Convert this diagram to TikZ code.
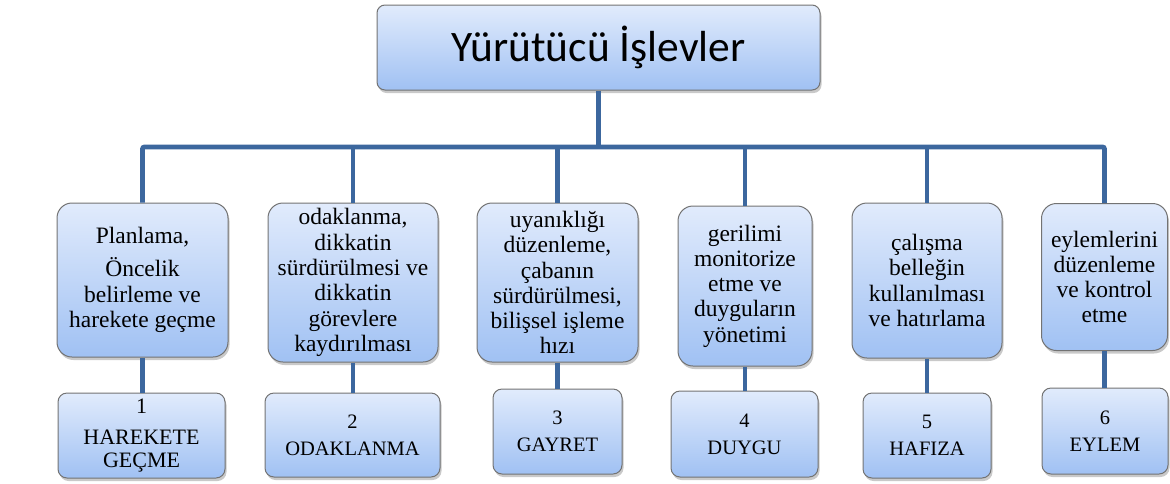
\documentclass[tikz,border=0pt]{standalone}
\usepackage{fontspec}
\setmainfont{Liberation Serif}
\newfontfamily\calib{Carlito}
\usetikzlibrary{shadows}
\definecolor{linecol}{RGB}{60,103,158}
\definecolor{boxtop}{RGB}{225,235,252}
\definecolor{boxbot}{RGB}{160,193,243}
\definecolor{boxborder}{RGB}{115,115,115}
\tikzset{
  boxbase/.style={draw=boxborder, line width=1pt, top color=boxtop, bottom color=boxbot,
    drop shadow={shadow xshift=1.5pt, shadow yshift=-3pt, opacity=0.3, fill=black!70},
    align=center, inner sep=2pt},
  topbox/.style={boxbase, rounded corners=8pt, font=\calib\fontsize{43.5}{48}\selectfont},
  midbox/.style={boxbase, rounded corners=15pt, font=\fontsize{23.5}{25.3}\selectfont},
  botbox/.style={boxbase, rounded corners=9pt, font=\fontsize{20.5}{27}\selectfont},
  conn/.style={draw=linecol, line width=4.8pt}
}
\begin{document}
\begin{tikzpicture}[x=1pt,y=-1pt]
\useasboundingbox (0,0) rectangle (1170,483);
% top
\node[topbox, minimum width=443, minimum height=85] (top) at (598.5,47.5) {Yürütücü İşlevler};
% middle row
\node[midbox, minimum width=171, minimum height=154] (m1) at (142.5,280) {Planlama,\\[8pt]Öncelik\\belirleme ve\\harekete geçme};
\node[midbox, minimum width=170, minimum height=159] (m2) at (353,282.5) {odaklanma,\\dikkatin\\sürdürülmesi ve\\dikkatin\\görevlere\\kaydırılması};
\node[midbox, minimum width=161, minimum height=159] (m3) at (557.5,282.5) {uyanıklığı\\düzenleme,\\çabanın\\sürdürülmesi,\\bilişsel işleme\\hızı};
\node[midbox, minimum width=134, minimum height=160] (m4) at (745,286) {gerilimi\\monitorize\\etme ve\\duyguların\\yönetimi};
\node[midbox, minimum width=150, minimum height=155] (m5) at (927,280.5) {çalışma\\belleğin\\kullanılması\\ve hatırlama};
\node[midbox, minimum width=126, minimum height=147] (m6) at (1104.5,277) {eylemlerini\\düzenleme\\ve kontrol\\etme};
% bottom row
\node[botbox, minimum width=167, minimum height=85, font=\fontsize{22}{22.5}\selectfont] (b1) at (141.5,435.5) {1\\[9pt]HAREKETE\\GEÇME};
\node[botbox, minimum width=175, minimum height=84] (b2) at (352.5,435) {2\\ODAKLANMA};
\node[botbox, minimum width=129, minimum height=85] (b3) at (557.5,431.5) {3\\GAYRET};
\node[botbox, minimum width=147, minimum height=86] (b4) at (744.5,434) {4\\DUYGU};
\node[botbox, minimum width=128, minimum height=85] (b5) at (927,435.5) {5\\HAFIZA};
\node[botbox, minimum width=126, minimum height=86] (b6) at (1105,431) {6\\EYLEM};
% connectors
\coordinate (bar) at (599,147);
\draw[conn] (top.south) -- (top.south |- bar);
\draw[conn, rounded corners=2pt] (m1.north) |- (bar) -| (m6.north);
\foreach \m in {m2,m3,m4,m5} {
  \draw[conn] (\m.north) -- (\m.north |- bar);
}
\foreach \m/\b in {m1/b1,m2/b2,m3/b3,m4/b4,m5/b5,m6/b6} {
  \draw[conn] (\m.south) -- (\m.south |- \b.north);
}
\end{tikzpicture}
\end{document}
